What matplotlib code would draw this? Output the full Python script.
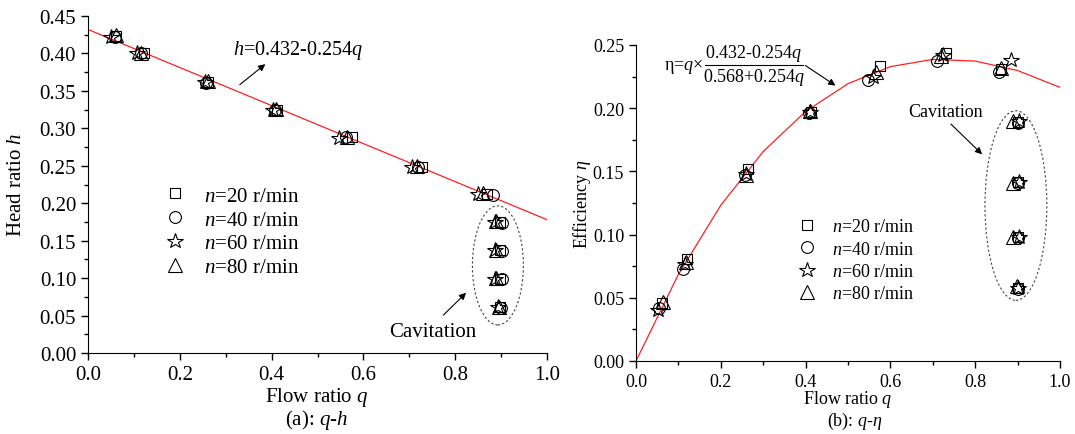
import numpy as np
import matplotlib
matplotlib.use("Agg")
import matplotlib.pyplot as plt
from matplotlib.patches import Ellipse
from matplotlib.ticker import MultipleLocator, FormatStrFormatter

plt.rcParams["font.family"] = ["Liberation Serif", "DejaVu Serif"]
plt.rcParams["mathtext.fontset"] = "custom"
plt.rcParams["mathtext.rm"] = "Liberation Serif"
plt.rcParams["mathtext.it"] = "Liberation Serif:italic"

W, H = 1075, 435

# data, panel (a): flow ratio q vs head ratio h
labels = ["$n$=20 r/min", "$n$=40 r/min", "$n$=60 r/min", "$n$=80 r/min"]
q_a_20 = [0.062, 0.122, 0.262, 0.412, 0.575, 0.728, 0.870, 0.898, 0.898, 0.898, 0.898]
h_a_20 = [0.423, 0.400, 0.362, 0.325, 0.288, 0.249, 0.212, 0.175, 0.137, 0.099, 0.061]
q_a_40 = [0.058, 0.115, 0.258, 0.408, 0.562, 0.718, 0.883, 0.902, 0.902, 0.902, 0.900]
h_a_40 = [0.422, 0.400, 0.361, 0.324, 0.288, 0.249, 0.211, 0.174, 0.136, 0.099, 0.060]
q_a_60 = [0.050, 0.107, 0.254, 0.404, 0.546, 0.706, 0.850, 0.887, 0.887, 0.887, 0.893]
h_a_60 = [0.422, 0.400, 0.362, 0.325, 0.287, 0.249, 0.212, 0.175, 0.137, 0.099, 0.062]
q_a_80 = [0.062, 0.116, 0.262, 0.410, 0.565, 0.716, 0.861, 0.888, 0.888, 0.888, 0.896]
h_a_80 = [0.424, 0.401, 0.363, 0.326, 0.289, 0.250, 0.213, 0.176, 0.138, 0.100, 0.062]
fit_q_a = [0.0, 1.0]
fit_h_a = [0.432, 0.178]

# data, panel (b): flow ratio q vs efficiency eta
q_b_20 = [0.062, 0.120, 0.264, 0.412, 0.576, 0.730, 0.860, 0.900, 0.900, 0.900, 0.900]
e_b_20 = [0.046, 0.081, 0.152, 0.197, 0.233, 0.244, 0.231, 0.189, 0.142, 0.098, 0.058]
q_b_40 = [0.055, 0.110, 0.258, 0.408, 0.548, 0.710, 0.857, 0.902, 0.902, 0.902, 0.900]
e_b_40 = [0.042, 0.073, 0.147, 0.196, 0.222, 0.237, 0.229, 0.188, 0.141, 0.097, 0.057]
q_b_60 = [0.052, 0.115, 0.260, 0.410, 0.558, 0.724, 0.884, 0.903, 0.903, 0.903, 0.902]
e_b_60 = [0.040, 0.077, 0.148, 0.197, 0.225, 0.242, 0.238, 0.190, 0.142, 0.098, 0.058]
q_b_80 = [0.064, 0.118, 0.260, 0.410, 0.566, 0.720, 0.862, 0.890, 0.890, 0.890, 0.898]
e_b_80 = [0.047, 0.078, 0.147, 0.198, 0.229, 0.241, 0.232, 0.190, 0.141, 0.098, 0.059]
fit_q_b = [0.0, 0.1, 0.2, 0.3, 0.4, 0.5, 0.6, 0.7, 0.8, 0.9, 1.0]
fit_e_b = [0.0, 0.0685, 0.1232, 0.1657, 0.1974, 0.2194, 0.2329, 0.2386, 0.2373, 0.2298, 0.2165]

series_a = [(q_a_20, h_a_20), (q_a_40, h_a_40), (q_a_60, h_a_60), (q_a_80, h_a_80)]
series_b = [(q_b_20, e_b_20), (q_b_40, e_b_40), (q_b_60, e_b_60), (q_b_80, e_b_80)]
markers = ["s", "o", "*", "^"]
msizes = [7.5, 8.5, 11.5, 9.5]


def px_axes(x0, y0, x1, y1):
    return [x0 / W, 1 - y1 / H, (x1 - x0) / W, (y1 - y0) / H]


def style_axes(ax, fs):
    ax.spines["top"].set_visible(False)
    ax.spines["right"].set_visible(False)
    ax.xaxis.set_major_locator(MultipleLocator(0.2))
    ax.xaxis.set_minor_locator(MultipleLocator(0.1))
    ax.yaxis.set_major_locator(MultipleLocator(0.05))
    ax.yaxis.set_minor_locator(MultipleLocator(0.025))
    ax.tick_params(which="major", direction="out", length=5, width=1, labelsize=fs)
    ax.tick_params(which="minor", direction="out", length=3, width=1)
    ax.xaxis.set_major_formatter(FormatStrFormatter("%.1f"))
    ax.yaxis.set_major_formatter(FormatStrFormatter("%.2f"))


arrow = dict(arrowstyle="-|>", color="k", lw=0.8, mutation_scale=10)

fig = plt.figure(figsize=(W / 100, H / 100), dpi=100)

# panel (a)
ax1 = fig.add_axes(px_axes(88, 17, 547, 354))
ax1.set_xlim(0, 1.0)
ax1.set_ylim(0, 0.45)
style_axes(ax1, 15)
ax1.plot(fit_q_a, fit_h_a, color="#ff2020", lw=0.9)
for (q, h), m, ms, lab in zip(series_a, markers, msizes, labels):
    ax1.plot(q, h, ls="none", marker=m, ms=ms, mfc="none", mec="k", mew=0.8, label=lab)
ax1.add_patch(Ellipse((0.893, 0.117), 0.111, 0.159, fill=False, ls=(0, (2, 2)), lw=0.8, ec="#444444"))
ax1.annotate("", xy=(0.391, 0.388), xytext=(0.326, 0.356), arrowprops=arrow)
ax1.text(0.315, 0.405, "$h$=0.432-0.254$q$", fontsize=14.5, ha="left", va="center")
ax1.annotate("", xy=(0.828, 0.083), xytext=(0.770, 0.048), arrowprops=arrow)
ax1.text(0.75, 0.029, "Cavitation", fontsize=15, ha="center", va="center")
ax1.legend(loc="upper left", bbox_to_anchor=(0.166, 0.495), frameon=False, fontsize=15,
           handlelength=1.0, handletextpad=0.9, labelspacing=0.2, borderpad=0, borderaxespad=0)
fig.text(317 / W, 1 - 398 / H, "Flow ratio $q$", fontsize=15, ha="center", va="center")
fig.text(317 / W, 1 - 420 / H, "(a): $q$-$h$", fontsize=15, ha="center", va="center")
fig.text(17 / W, 1 - 185 / H, "Head ratio $h$", fontsize=15, ha="center", va="center", rotation=90)

# panel (b)
ax2 = fig.add_axes(px_axes(636, 46, 1060, 362))
ax2.set_xlim(0, 1.0)
ax2.set_ylim(0, 0.25)
style_axes(ax2, 13)
ax2.plot(fit_q_b, fit_e_b, color="#ff2020", lw=0.9)
for (q, e), m, ms, lab in zip(series_b, markers, msizes, labels):
    ax2.plot(q, e, ls="none", marker=m, ms=ms, mfc="none", mec="k", mew=0.8, label=lab)
ax2.add_patch(Ellipse((0.896, 0.123), 0.146, 0.150, fill=False, ls=(0, (2, 2)), lw=0.8, ec="#444444"))
ax2.annotate("", xy=(0.476, 0.2167), xytext=(0.394, 0.235), arrowprops=arrow)
# fitted efficiency formula, written as a stacked fraction
fig.text(664 / W, 1 - 66 / H, "η=$q$×", fontsize=13, ha="left", va="center")
fig.text(754 / W, 1 - 54 / H, "0.432-0.254$q$", fontsize=13, ha="center", va="center")
fig.text(754 / W, 1 - 77 / H, "0.568+0.254$q$", fontsize=13, ha="center", va="center")
fig.add_artist(plt.Line2D([705 / W, 803 / W], [1 - 66 / H, 1 - 66 / H], color="k", lw=0.8))
ax2.annotate("", xy=(0.821, 0.162), xytext=(0.738, 0.189), arrowprops=arrow)
ax2.text(0.731, 0.1976, "Cavitation", fontsize=13, ha="center", va="center")
ax2.legend(loc="upper left", bbox_to_anchor=(0.382, 0.452), frameon=False, fontsize=13,
           handlelength=1.0, handletextpad=0.9, labelspacing=0.3, borderpad=0, borderaxespad=0)
fig.text(848 / W, 1 - 400 / H, "Flow ratio $q$", fontsize=13, ha="center", va="center")
fig.text(855 / W, 1 - 421 / H, "(b): $q$-$\\eta$", fontsize=13, ha="center", va="center")
fig.text(582 / W, 1 - 204 / H, "Efficiency $\\eta$", fontsize=13, ha="center", va="center", rotation=90)

fig.savefig("out.png", dpi=100)
